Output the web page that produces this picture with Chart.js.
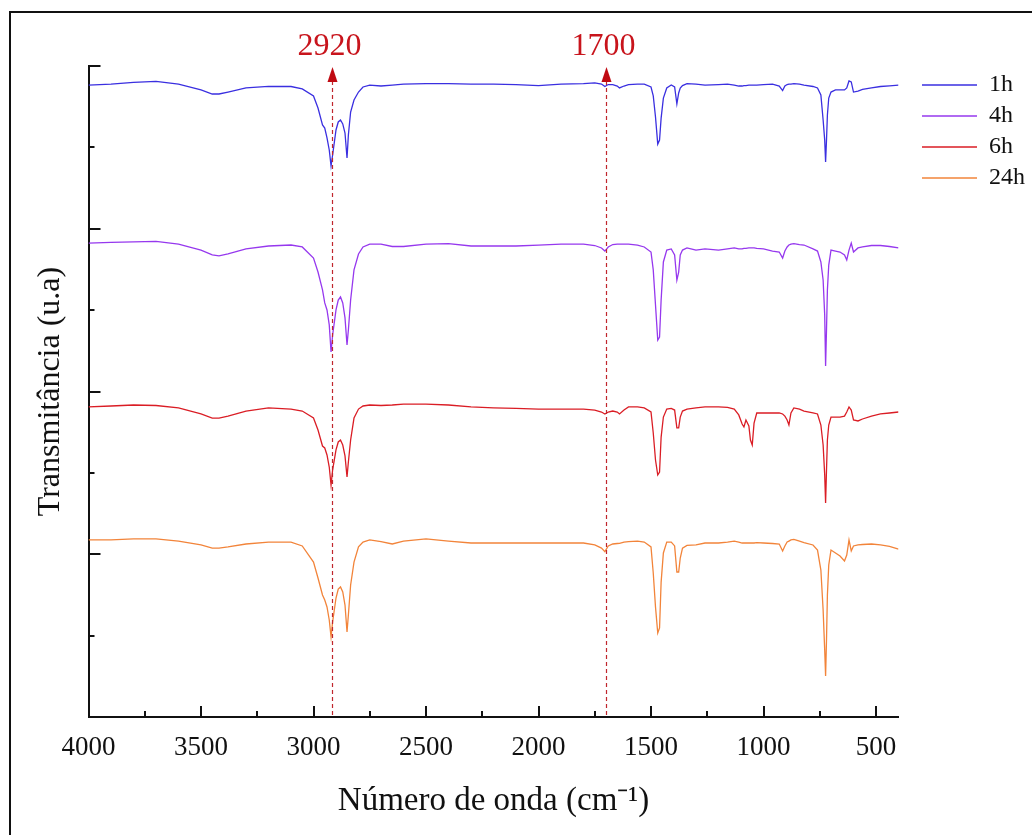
<!DOCTYPE html>
<html>
<head>
<meta charset="utf-8">
<script src="https://cdn.jsdelivr.net/npm/chart.js@4.4.1/dist/chart.umd.min.js"></script>
<style>
html,body{margin:0;padding:0;background:#fff;}
#wrap{width:1032px;height:835px;}
</style>
</head>
<body>
<div id="wrap"><canvas id="c" width="1032" height="835"></canvas></div>
<script>
// ---- data (wavenumber in cm-1, transmittance in arbitrary units, stacked) ----
const wavenumbers = [
 4000,3900,3800,3700,3600,3500,3450,3420,3380,3300,
 3200,3100,3050,3000,2980,2960,2950,2940,2930,2922,
 2915,2900,2890,2880,2870,2860,2851,2845,2835,2820,
 2800,2780,2750,2700,2650,2600,2500,2400,2300,2200,
 2100,2000,1900,1800,1750,1720,1705,1690,1670,1650,
 1640,1620,1600,1560,1530,1500,1490,1480,1470,1462,
 1455,1445,1430,1410,1395,1385,1377,1370,1360,1340,
 1300,1260,1200,1160,1130,1110,1095,1087,1078,1065,
 1058,1050,1042,1030,1000,960,930,915,905,895,
 887,878,865,840,820,780,760,745,735,728,
 724,720,716,710,700,680,660,640,630,620,
 610,600,580,560,520,480,440,400
];
const t1h = [
 3.883,3.889,3.899,3.906,3.889,3.853,3.828,3.828,3.840,3.865,
 3.875,3.874,3.859,3.816,3.742,3.638,3.619,3.558,3.484,3.386,
 3.453,3.607,3.656,3.668,3.644,3.588,3.435,3.576,3.717,3.791,
 3.840,3.871,3.883,3.877,3.883,3.889,3.892,3.892,3.889,3.889,
 3.886,3.880,3.889,3.892,3.896,3.889,3.874,3.886,3.886,3.877,
 3.865,3.877,3.886,3.889,3.889,3.871,3.816,3.687,3.520,3.545,
 3.680,3.803,3.865,3.883,3.871,3.767,3.834,3.865,3.880,3.892,
 3.889,3.883,3.886,3.889,3.883,3.877,3.877,3.880,3.880,3.883,
 3.883,3.883,3.883,3.883,3.886,3.889,3.877,3.849,3.877,3.886,
 3.889,3.889,3.892,3.889,3.883,3.874,3.865,3.822,3.668,3.545,
 3.410,3.545,3.699,3.803,3.840,3.853,3.853,3.853,3.865,3.908,
 3.902,3.840,3.846,3.856,3.865,3.874,3.878,3.883
];
const t4h = [
 2.912,2.916,2.919,2.922,2.906,2.869,2.839,2.833,2.845,2.876,
 2.894,2.900,2.888,2.820,2.734,2.624,2.544,2.501,2.409,2.243,
 2.347,2.501,2.562,2.581,2.544,2.452,2.286,2.378,2.562,2.747,
 2.845,2.888,2.906,2.906,2.891,2.891,2.906,2.909,2.894,2.894,
 2.894,2.900,2.906,2.906,2.897,2.882,2.863,2.888,2.903,2.906,
 2.906,2.906,2.906,2.900,2.888,2.857,2.747,2.531,2.316,2.335,
 2.562,2.796,2.869,2.876,2.839,2.685,2.734,2.839,2.869,2.882,
 2.869,2.876,2.869,2.876,2.882,2.876,2.876,2.879,2.879,2.882,
 2.882,2.882,2.882,2.879,2.876,2.863,2.857,2.820,2.863,2.888,
 2.900,2.906,2.909,2.903,2.900,2.876,2.863,2.796,2.685,2.470,
 2.157,2.378,2.624,2.777,2.869,2.863,2.857,2.839,2.808,2.869,
 2.912,2.857,2.882,2.888,2.897,2.897,2.891,2.882
];
const t6h = [
 1.905,1.911,1.917,1.914,1.899,1.862,1.837,1.837,1.849,1.880,
 1.899,1.892,1.880,1.837,1.763,1.665,1.653,1.610,1.536,1.425,
 1.518,1.641,1.690,1.702,1.671,1.604,1.475,1.567,1.702,1.837,
 1.892,1.911,1.917,1.914,1.917,1.923,1.923,1.917,1.905,1.899,
 1.896,1.892,1.892,1.892,1.886,1.874,1.862,1.874,1.880,1.874,
 1.862,1.886,1.905,1.905,1.899,1.874,1.745,1.579,1.487,1.505,
 1.720,1.843,1.892,1.896,1.886,1.776,1.776,1.843,1.880,1.892,
 1.899,1.905,1.905,1.902,1.892,1.856,1.800,1.782,1.825,1.788,
 1.702,1.671,1.806,1.868,1.868,1.868,1.868,1.862,1.849,1.825,
 1.794,1.868,1.899,1.892,1.880,1.868,1.862,1.794,1.671,1.487,
 1.315,1.518,1.702,1.794,1.843,1.843,1.843,1.849,1.874,1.905,
 1.886,1.825,1.819,1.831,1.849,1.862,1.868,1.874
];
const t24h = [
 1.088,1.088,1.094,1.094,1.081,1.057,1.038,1.038,1.045,1.063,
 1.075,1.075,1.051,0.952,0.854,0.750,0.719,0.676,0.596,0.492,
 0.584,0.731,0.786,0.799,0.768,0.688,0.522,0.627,0.811,0.952,
 1.045,1.075,1.088,1.077,1.063,1.081,1.094,1.081,1.069,1.069,
 1.069,1.069,1.069,1.069,1.057,1.038,1.016,1.051,1.063,1.066,
 1.067,1.075,1.078,1.081,1.075,1.045,0.885,0.676,0.516,0.547,
 0.829,1.008,1.075,1.075,1.051,0.891,0.891,0.977,1.038,1.054,
 1.057,1.069,1.069,1.075,1.081,1.075,1.069,1.069,1.069,1.069,
 1.069,1.069,1.069,1.071,1.069,1.066,1.063,1.020,1.051,1.075,
 1.081,1.088,1.091,1.081,1.072,1.057,1.026,0.903,0.657,0.412,
 0.252,0.473,0.750,0.934,1.026,1.008,0.989,0.959,0.995,1.088,
 1.020,1.051,1.057,1.060,1.063,1.057,1.048,1.032
];
const seriesNames = ['1h','4h','6h','24h'];
const seriesColors = ['#3a2fe0','#9638ee','#da1d25','#f2843a'];
const xTickValues = [4000,3500,3000,2500,2000,1500,1000,500];
const xMinorValues = [3750,3250,2750,2250,1750,1250,750];
const yMajorValues = [1,2,3,4];
const yMinorValues = [0.5,1.5,2.5,3.5];
const markerValues = [2920,1700];
const markerLabels = ['2920','1700'];

// ---- chart ----
const serif = "'Liberation Serif','Times New Roman',serif";
const seriesData = [t1h, t4h, t6h, t24h];
const plotRight = 898.5;   // right edge of plot area
const legendGap = 16.5;    // extra gap between plot area and legend lines

const framePlugin = {
  id: 'frame',
  beforeDraw(chart) {
    const ctx = chart.ctx;
    ctx.save();
    ctx.fillStyle = '#fff';
    ctx.fillRect(0, 0, chart.width, chart.height);
    ctx.strokeStyle = '#111';
    ctx.lineWidth = 2;
    ctx.beginPath();
    ctx.moveTo(10, chart.height);
    ctx.lineTo(10, 12);
    ctx.lineTo(chart.width, 12);
    ctx.stroke();
    ctx.restore();
  }
};

const tickPlugin = {
  id: 'inwardTicks',
  afterDraw(chart) {
    const {ctx, chartArea: a, scales: {x, y}} = chart;
    ctx.save();
    ctx.strokeStyle = '#111';
    ctx.lineWidth = 2;
    const seg = (x1, y1, x2, y2) => { ctx.beginPath(); ctx.moveTo(x1, y1); ctx.lineTo(x2, y2); ctx.stroke(); };
    xTickValues.forEach(v => { const p = Math.round(x.getPixelForValue(v)); seg(p, a.bottom, p, a.bottom - 11); });
    xMinorValues.forEach(v => { const p = Math.round(x.getPixelForValue(v)); seg(p, a.bottom, p, a.bottom - 6); });
    yMajorValues.forEach(v => { const p = Math.round(y.getPixelForValue(v)); seg(a.left, p, a.left + 12, p); });
    yMinorValues.forEach(v => { const p = Math.round(y.getPixelForValue(v)); seg(a.left, p, a.left + 6, p); });
    ctx.restore();
  }
};

const markerPlugin = {
  id: 'markers',
  afterDatasetsDraw(chart) {
    const {ctx, chartArea: a, scales: {x}} = chart;
    ctx.save();
    markerValues.forEach((v, i) => {
      const p = Math.round(x.getPixelForValue(v)) + 0.5;
      ctx.setLineDash([4, 3]);
      ctx.strokeStyle = '#c0262d';
      ctx.lineWidth = 1.2;
      ctx.beginPath();
      ctx.moveTo(p, a.top + 15);
      ctx.lineTo(p, a.bottom);
      ctx.stroke();
      ctx.setLineDash([]);
      ctx.fillStyle = '#c00a12';
      ctx.beginPath();
      ctx.moveTo(p, a.top + 1);
      ctx.lineTo(p - 5, a.top + 16);
      ctx.lineTo(p + 5, a.top + 16);
      ctx.closePath();
      ctx.fill();
      ctx.fillStyle = '#c8141c';
      ctx.font = '32px ' + serif;
      ctx.textAlign = 'center';
      ctx.textBaseline = 'middle';
      ctx.fillText(markerLabels[i], p - 3, a.top - 19);
    });
    ctx.restore();
  }
};

// keep the legend box at a fixed width so the plot area ends at plotRight,
// then move the legend a little to the right as in the original figure
const legendLayout = {
  id: 'legendLayout',
  afterInit(chart) {
    const L = chart.legend;
    if (!L || L._fixedFit) return;
    const origFit = L.fit.bind(L);
    L.fit = function () {
      origFit();
      if (!this.isHorizontal()) this.width = chart.width - plotRight;
    };
    L._fixedFit = true;
  },
  afterLayout(chart) {
    const L = chart.legend;
    if (!L) return;
    L.left = chart.chartArea.right + legendGap;
    L.right = chart.width;
    L.width = L.right - L.left;
  }
};

new Chart(document.getElementById('c'), {
  type: 'line',
  data: {
    datasets: seriesNames.map((n, i) => ({
      label: n,
      data: wavenumbers.map((w, j) => ({x: w, y: seriesData[i][j]})),
      borderColor: seriesColors[i],
      backgroundColor: seriesColors[i],
      borderWidth: 1.3,
      pointRadius: 0,
      tension: 0,
      fill: false
    }))
  },
  options: {
    responsive: false,
    animation: false,
    devicePixelRatio: 1,
    layout: {padding: {left: 0, top: 66, right: 0, bottom: 0}},
    plugins: {
      legend: {
        position: 'right',
        align: 'start',
        labels: {
          usePointStyle: true,
          pointStyle: 'line',
          pointStyleWidth: 55,
          padding: 7,
          color: '#111',
          font: {family: serif, size: 24}
        }
      },
      tooltip: {enabled: false}
    },
    scales: {
      x: {
        type: 'linear',
        min: 400,
        max: 4000,
        reverse: true,
        grid: {display: false},
        border: {display: true, color: '#111', width: 2},
        afterBuildTicks(s) { s.ticks = xTickValues.map(v => ({value: v})); },
        ticks: {
          padding: 7,
          color: '#111',
          autoSkip: false,
          maxRotation: 0,
          font: {family: serif, size: 27},
          callback: v => String(v)
        },
        title: {
          display: true,
          text: 'Número de onda (cm⁻¹)',
          color: '#111',
          font: {family: serif, size: 33},
          padding: {top: 0, bottom: 14}
        },
        afterFit(s) { s.height = 118; }
      },
      y: {
        min: 0,
        max: 4,
        grid: {display: false},
        border: {display: true, color: '#111', width: 2},
        ticks: {display: false},
        title: {
          display: true,
          text: 'Transmitância (u.a)',
          color: '#111',
          font: {family: serif, size: 32},
          padding: {top: 31, bottom: 0}
        },
        afterFit(s) { s.width = 88.5; }
      }
    }
  },
  plugins: [framePlugin, tickPlugin, markerPlugin, legendLayout]
});
</script>
</body>
</html>
